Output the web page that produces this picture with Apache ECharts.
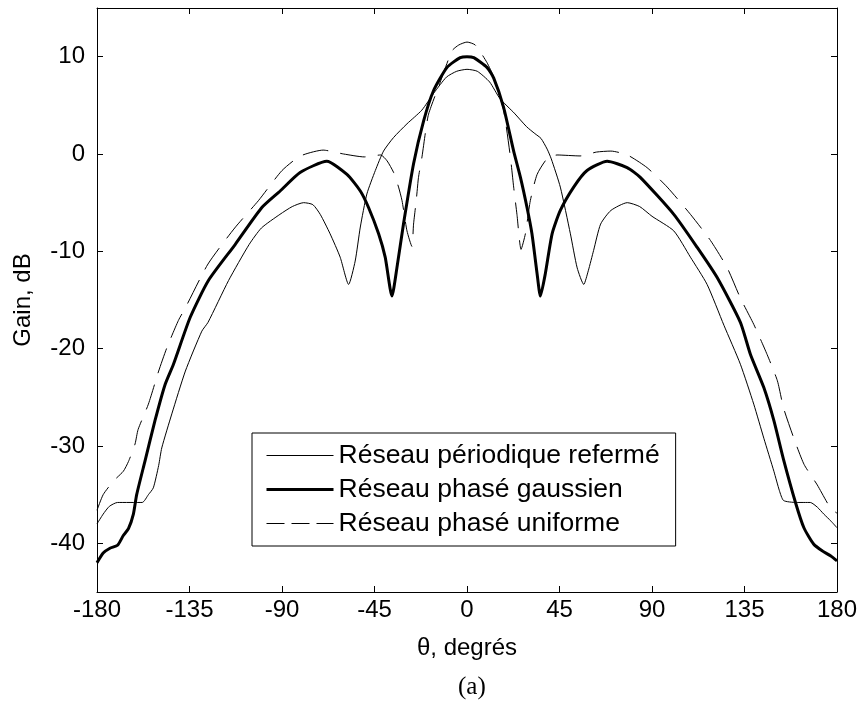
<!DOCTYPE html>
<html>
<head>
<meta charset="utf-8">
<script src="https://cdn.jsdelivr.net/npm/echarts@6/dist/echarts.min.js"></script>
<style>
html, body { margin: 0; padding: 0; background: #fff; }
#chart { width: 863px; height: 708px; }
</style>
</head>
<body>
<div id="chart"></div>
<script>
// noms des courbes (légende)
var seriesNames = ['Réseau périodique refermé', 'Réseau phasé gaussien', 'Réseau phasé uniforme'];

// graduations
var xTicks = [-180, -135, -90, -45, 0, 45, 90, 135, 180];
var yTicks = [-40, -30, -20, -10, 0, 10];

// Réseau périodique refermé (trait fin)
var thetaPeriodique = [-180, -177, -174, -170, -158, -155, -152.6, -150, -148.5, -143.6, -137, -129, -126, -116, -106, -100, -91, -85, -79.5, -75, -71.4, -66.6, -61.7, -57.6, -54.4, -51.9, -48.7, -44.6, -40.6, -35.7, -29.2, -22, -16, -10, -5, 0,
  5, 11, 16, 23, 29, 33, 36, 39, 41, 45.4, 50.3, 53.6, 56.8, 59, 61.6, 65, 70, 78, 84, 90, 100.6, 108.7, 116.8, 125, 133, 139.5, 144.4, 149.3, 152, 154, 160, 167, 170.5, 173.6, 177, 180];
var gainPeriodique = [-38.0, -37.0, -36.2, -35.8, -35.8, -35.0, -34.3, -32.0, -30.2, -26.7, -22.3, -18.2, -17.3, -13.0, -9.3, -7.6, -6.2, -5.4, -5.0, -5.2, -6.2, -8.2, -10.6, -13.4, -11.0, -7.5, -4.1, -1.7, 0.3, 1.7, 3.1, 4.5, 6.3, 7.9, 8.5, 8.7,
  8.5, 7.4, 5.7, 4.2, 2.8, 2.1, 1.6, 0.5, -0.5, -3.4, -8.2, -11.7, -13.4, -12.0, -9.9, -7.2, -5.8, -5.0, -5.4, -6.4, -7.9, -10.6, -13.4, -17.6, -21.6, -25.7, -29.2, -32.6, -34.6, -35.6, -35.8, -35.8, -36.3, -37.0, -37.7, -38.4];

// Réseau phasé gaussien (trait épais)
var thetaGaussien = [-180, -177, -173.7, -170, -167.2, -164.7, -162.3, -160.7, -156.6, -151.8, -146.9, -142.8, -134.7, -125.8, -112.8, -99.8, -90.9, -81.2, -68.2, -58.4, -51.9, -47.9, -43, -39.8, -36.5, -34.1, -30.9, -26, -21.1, -16.3, -9.7, -3.3, 0,
  3.3, 9.7, 13, 17.8, 22.7, 26, 29.2, 31.6, 34.1, 35.7, 38.1, 41.4, 45.4, 51.9, 58.4, 68.2, 77.9, 84.3, 100.6, 112, 121.7, 133, 137.9, 144.4, 149.3, 154, 159.8, 163.9, 168.7, 173, 177, 180];
var gainGaussien = [-42.0, -41.0, -40.5, -40.2, -39.2, -38.5, -37.0, -35.0, -31.5, -27.4, -23.7, -21.6, -16.8, -13.0, -9.3, -5.5, -3.8, -1.9, -0.75, -2.1, -3.8, -5.5, -8.2, -10.6, -14.6, -11.7, -7.2, -1.0, 3.4, 6.5, 8.9, 9.9, 10.0,
  9.9, 8.9, 7.8, 4.8, 0.3, -2.4, -5.5, -8.2, -12.3, -14.6, -12.3, -8.2, -5.8, -3.4, -1.7, -0.75, -1.4, -2.4, -6.2, -9.6, -12.7, -17.3, -20.6, -24.0, -27.4, -31.4, -35.8, -38.4, -40.1, -40.8, -41.3, -41.8];

// Réseau phasé uniforme (tirets)
var thetaUniforme = [-180, -177, -172, -167.2, -164.7, -161.5, -160, -155, -150, -146, -140.4, -137, -126, -113, -101.5, -90, -81, -70, -60, -50, -42, -38.9, -35.7, -33.3, -31.6, -29.2, -26.8, -26, -24.7, -23.6, -21.9, -20.3, -18.7, -13, -7.3, -4, 0,
  4, 9.7, 13, 17.8, 21.1, 22.7, 24.3, 26.3, 28.4, 30.8, 34.1, 38.9, 43.8, 55, 63, 70, 78, 87.6, 97.4, 108.7, 118.5, 126.6, 133, 139.5, 146, 151, 154, 159, 164, 170.4, 176.9, 180];
var gainUniforme = [-36.6, -35.0, -33.6, -32.6, -31.6, -29.8, -28.3, -25.7, -22.3, -19.9, -17.1, -15.8, -11.3, -7.6, -4.8, -1.7, -0.2, 0.4, 0.0, -0.3, -0.1, -0.7, -1.9, -3.4, -4.8, -7.9, -9.5, -7.2, -4.8, -2.4, -0.3, 2.1, 4.1, 7.4, 10.6, 11.2, 11.5,
  11.2, 9.4, 7.9, 4.5, -0.3, -3.4, -6.2, -9.8, -8.2, -4.8, -2.1, -0.5, -0.1, -0.2, 0.2, 0.3, -0.1, -1.4, -3.4, -6.2, -8.9, -11.7, -14.8, -17.5, -20.6, -23.3, -26.1, -29.2, -31.9, -34.0, -36.4, -36.9];

function pairs(theta, gain) {
	return theta.map(function (t, i) { return [t, gain[i]]; });
}

var myChart = echarts.init(document.getElementById('chart'));
var font = 'Liberation Sans, Arial, sans-serif';

// styles des trois courbes
var styleFin = { color: '#000', width: 1 };
var styleEpais = { color: '#000', width: 3 };
var styleTirets = { color: '#000', width: 1, type: [26, 12] };

var axisCommon = {
	axisLine: { show: true, onZero: false, lineStyle: { color: '#000', width: 1 } },
	axisTick: { show: true, inside: true, length: 6, lineStyle: { color: '#000', width: 1 } },
	splitLine: { show: false }
};

var option = {
	backgroundColor: '#fff',
	animation: false,
	title: {
		text: '(a)',
		left: 453,
		top: 670,
		textStyle: { fontFamily: 'Liberation Serif, Times New Roman, serif', fontSize: 25, fontWeight: 'normal', color: '#000' }
	},
	grid: { left: 97, right: 26, top: 8, bottom: 116, outerBoundsMode: 'none' },
	legend: {
		orient: 'vertical',
		left: 252,
		top: 433,
		data: [
			{ name: seriesNames[0], lineStyle: { width: 1, type: 'solid' } },
			{ name: seriesNames[1], lineStyle: { width: 3, type: 'solid' } },
			{ name: seriesNames[2], lineStyle: { width: 1, type: [18, 7] } }
		],
		itemWidth: 67,
		itemHeight: 20,
		itemGap: 7,
		itemStyle: { opacity: 0 },
		padding: [9, 16, 9, 13],
		borderColor: '#000',
		borderWidth: 1,
		borderRadius: 0,
		backgroundColor: '#fff',
		textStyle: { fontFamily: font, fontSize: 26.5, color: '#000' }
	},
	xAxis: [
		Object.assign({}, axisCommon, {
			type: 'value', position: 'bottom', min: -180, max: 180, interval: 45,
			axisLabel: { color: '#000', fontFamily: font, fontSize: 24, margin: 6 },
			name: 'θ, degrés', nameLocation: 'middle', nameGap: 44,
			nameTextStyle: { color: '#000', fontFamily: font, fontSize: 24 }
		}),
		Object.assign({}, axisCommon, {
			type: 'value', position: 'top', min: -180, max: 180, interval: 45,
			axisLabel: { show: false }
		})
	],
	yAxis: [
		Object.assign({}, axisCommon, {
			type: 'value', position: 'left', min: -45, max: 15,
			axisTick: { show: true, inside: true, length: 6, lineStyle: { color: '#000' }, customValues: yTicks },
			axisLabel: { color: '#000', fontFamily: font, fontSize: 24, margin: 12, customValues: yTicks },
			name: 'Gain, dB', nameLocation: 'middle', nameGap: 62,
			nameTextStyle: { color: '#000', fontFamily: font, fontSize: 24 }
		}),
		Object.assign({}, axisCommon, {
			type: 'value', position: 'right', min: -45, max: 15,
			axisTick: { show: true, inside: true, length: 6, lineStyle: { color: '#000' }, customValues: yTicks },
			axisLabel: { show: false }
		})
	],
	series: [
		{
			name: seriesNames[0], type: 'line', xAxisIndex: 0, yAxisIndex: 0,
			symbol: 'none', smooth: 0.2,
			lineStyle: styleFin,
			itemStyle: { color: '#000' },
			data: pairs(thetaPeriodique, gainPeriodique)
		},
		{
			name: seriesNames[1], type: 'line', xAxisIndex: 0, yAxisIndex: 0,
			symbol: 'none', smooth: 0.2,
			lineStyle: styleEpais,
			itemStyle: { color: '#000' },
			data: pairs(thetaGaussien, gainGaussien)
		},
		{
			name: seriesNames[2], type: 'line', xAxisIndex: 0, yAxisIndex: 0,
			symbol: 'none', smooth: 0.2,
			lineStyle: styleTirets,
			itemStyle: { color: '#000' },
			data: pairs(thetaUniforme, gainUniforme)
		}
	]
};
myChart.setOption(option);
</script>
</body>
</html>
